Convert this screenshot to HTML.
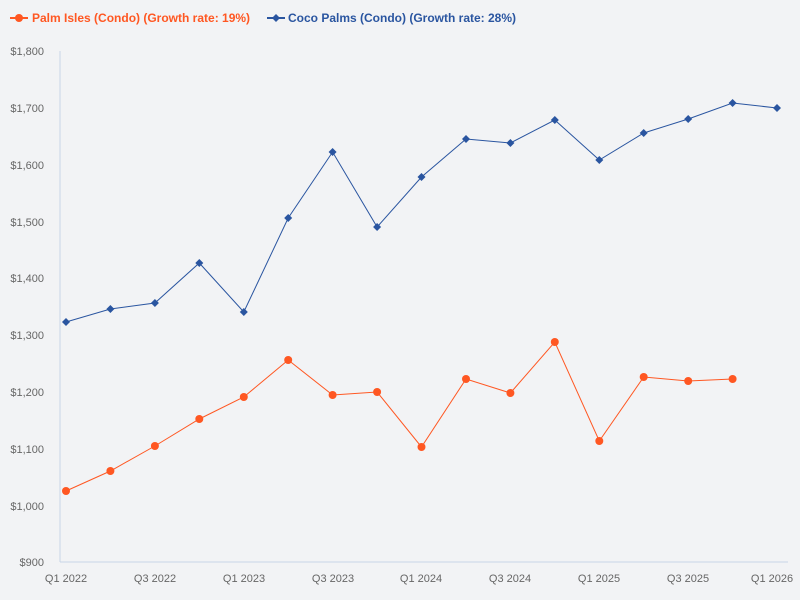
<!DOCTYPE html>
<html><head><meta charset="utf-8"><style>
html,body{margin:0;padding:0;background:#f2f3f5;}
svg{display:block;font-family:"Liberation Sans",sans-serif;}
</style></head><body>
<svg width="800" height="600" viewBox="0 0 800 600">
<rect width="800" height="600" fill="#f2f3f5"/>
<g font-size="12" font-weight="bold">
<line x1="10" y1="18" x2="28" y2="18" stroke="#ff5722" stroke-width="2"/><circle cx="19" cy="18" r="4" fill="#ff5722"/>
<text x="32" y="22" fill="#ff5722">Palm Isles (Condo) (Growth rate: 19%)</text>
<line x1="267" y1="18" x2="285" y2="18" stroke="#2a55a0" stroke-width="2"/><path d="M276 14 L280 18 L276 22 L272 18Z" fill="#2a55a0"/>
<text x="288" y="22" fill="#2a55a0">Coco Palms (Condo) (Growth rate: 28%)</text>
</g>
<g font-size="11" fill="#666" text-anchor="end">
<text x="44" y="55">$1,800</text><text x="44" y="112">$1,700</text><text x="44" y="169">$1,600</text><text x="44" y="226">$1,500</text><text x="44" y="282">$1,400</text><text x="44" y="339">$1,300</text><text x="44" y="396">$1,200</text><text x="44" y="453">$1,100</text><text x="44" y="510">$1,000</text><text x="44" y="566">$900</text>
</g>
<line x1="60" y1="51" x2="60" y2="562" stroke="#c8d4e6"/>
<line x1="60" y1="562" x2="788" y2="562" stroke="#c8d4e6"/>
<g font-size="11" fill="#666" text-anchor="middle">
<text x="66" y="582">Q1 2022</text><text x="155" y="582">Q3 2022</text><text x="244" y="582">Q1 2023</text><text x="333" y="582">Q3 2023</text><text x="421" y="582">Q1 2024</text><text x="510" y="582">Q3 2024</text><text x="599" y="582">Q1 2025</text><text x="688" y="582">Q3 2025</text><text x="772" y="582">Q1 2026</text>
</g>
<polyline fill="none" stroke="#2a55a0" stroke-width="1" points="66,322 110.4,309 154.9,303 199.3,263 243.8,312 288.2,218 332.6,152 377.1,227 421.5,177 466,139 510.4,143 554.8,120 599.3,160 643.7,133 688.2,119 732.6,103 777,108"/>
<g fill="#2a55a0">
<path d="M66 318l4 4-4 4-4-4z"/><path d="M110.4 305l4 4-4 4-4-4z"/><path d="M154.9 299l4 4-4 4-4-4z"/><path d="M199.3 259l4 4-4 4-4-4z"/><path d="M243.8 308l4 4-4 4-4-4z"/><path d="M288.2 214l4 4-4 4-4-4z"/><path d="M332.6 148l4 4-4 4-4-4z"/><path d="M377.1 223l4 4-4 4-4-4z"/><path d="M421.5 173l4 4-4 4-4-4z"/><path d="M466 135l4 4-4 4-4-4z"/><path d="M510.4 139l4 4-4 4-4-4z"/><path d="M554.8 116l4 4-4 4-4-4z"/><path d="M599.3 156l4 4-4 4-4-4z"/><path d="M643.7 129l4 4-4 4-4-4z"/><path d="M688.2 115l4 4-4 4-4-4z"/><path d="M732.6 99l4 4-4 4-4-4z"/><path d="M777 104l4 4-4 4-4-4z"/>
</g>
<polyline fill="none" stroke="#ff5722" stroke-width="1" points="66,491 110.4,471 154.9,446 199.3,419 243.8,397 288.2,360 332.6,395 377.1,392 421.5,447 466,379 510.4,393 554.8,342 599.3,441 643.7,377 688.2,381 732.6,379"/>
<g fill="#ff5722">
<circle cx="66" cy="491" r="4"/><circle cx="110.4" cy="471" r="4"/><circle cx="154.9" cy="446" r="4"/><circle cx="199.3" cy="419" r="4"/><circle cx="243.8" cy="397" r="4"/><circle cx="288.2" cy="360" r="4"/><circle cx="332.6" cy="395" r="4"/><circle cx="377.1" cy="392" r="4"/><circle cx="421.5" cy="447" r="4"/><circle cx="466" cy="379" r="4"/><circle cx="510.4" cy="393" r="4"/><circle cx="554.8" cy="342" r="4"/><circle cx="599.3" cy="441" r="4"/><circle cx="643.7" cy="377" r="4"/><circle cx="688.2" cy="381" r="4"/><circle cx="732.6" cy="379" r="4"/>
</g>
</svg>
</body></html>
